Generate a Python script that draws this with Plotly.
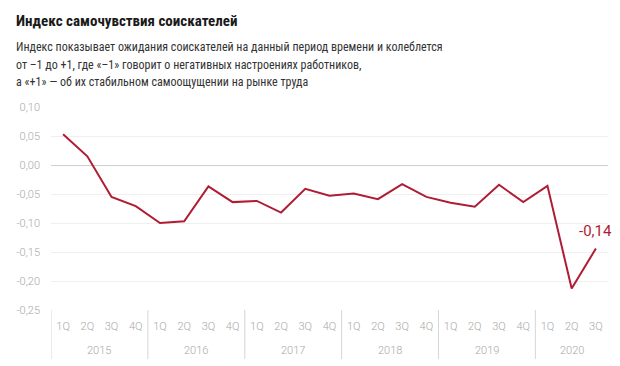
import plotly.graph_objects as go

years = ["2015"] * 4 + ["2016"] * 4 + ["2017"] * 4 + ["2018"] * 4 + ["2019"] * 4 + ["2020"] * 3
quarters = ["1Q", "2Q", "3Q", "4Q"] * 5 + ["1Q", "2Q", "3Q"]
index_values = [0.053, 0.015, -0.055, -0.071,
                -0.100, -0.097, -0.037, -0.064,
                -0.062, -0.082, -0.041, -0.053,
                -0.049, -0.059, -0.033, -0.055,
                -0.065, -0.072, -0.034, -0.064,
                -0.036, -0.213, -0.144]
y_tickvals = [0.10, 0.05, 0.00, -0.05, -0.10, -0.15, -0.20, -0.25]
y_ticktext = ["0,10", "0,05", "0,00", "-0,05", "-0,10", "-0,15", "-0,20", "-0,25"]

title = "Индекс самочувствия соискателей"
subtitle = [
    "Индекс показывает ожидания соискателей на данный период времени и колеблется",
    "от –1 до +1, где «–1» говорит о негативных настроениях работников,",
    "а «+1» — об их стабильном самоощущении на рынке труда",
]
last_label = "-0,14"

RED = "#b01c33"
COND = "Roboto Condensed, Roboto, sans-serif"
TICKFONT = "Roboto, sans-serif"
GREY = "#a8a8a8"

n = len(index_values)
xs = list(range(n))

fig = go.Figure()
fig.add_trace(go.Scatter(
    x=xs, y=index_values, mode="lines",
    line=dict(color=RED, width=2), hoverinfo="skip", showlegend=False,
))

# page has an 8px body margin, so the figure is drawn 8px smaller
W, H = 612, 358
L, R, T, B = 43, 12, 99, 56
pw, ph = W - L - R, H - T - B

def px_x(p):
    return (p - L) / pw

def px_y(p):
    return (H - B - p) / ph

annotations = [
    dict(text=title, x=px_x(6), y=px_y(13.5), xref="paper", yref="paper",
         xanchor="left", yanchor="middle", showarrow=False,
         font=dict(family=COND, size=15, color="#1a1a1a", weight="bold")),
]
for i, line in enumerate(subtitle):
    annotations.append(dict(text=line, x=px_x(6), y=px_y(39.5 + i * 17.3), xref="paper", yref="paper",
                            xanchor="left", yanchor="middle", showarrow=False,
                            font=dict(family=COND, size=12, color="#333333")))
annotations.append(dict(text=last_label, x=xs[-1], y=index_values[-1],
                        xref="x", yref="y", showarrow=False, yshift=18,
                        xanchor="center", yanchor="middle",
                        font=dict(family=TICKFONT, size=15, color=RED)))

# year group labels and dividers
shapes = []
groups = []
for i, yv in enumerate(years):
    if i == 0 or years[i - 1] != yv:
        groups.append([yv, i, i])
    else:
        groups[-1][2] = i
for yv, a, b in groups:
    annotations.append(dict(text=yv, x=(a + b) / 2, y=px_y(342), xref="x", yref="paper",
                            xanchor="center", yanchor="middle", showarrow=False,
                            font=dict(family=TICKFONT, size=11, color=GREY, weight=300)))
    shapes.append(dict(type="line", xref="x", yref="paper", x0=a - 0.5, x1=a - 0.5,
                       y0=0, y1=px_y(351), line=dict(color="#d6d6d6", width=1)))

fig.update_layout(
    width=W, height=H,
    margin=dict(l=L, r=R, t=T, b=B, autoexpand=False),
    paper_bgcolor="white", plot_bgcolor="white",
    font=dict(family=TICKFONT, color=GREY, size=11),
    annotations=annotations, shapes=shapes,
    xaxis=dict(range=[-0.5, n - 0.5], tickvals=xs, ticktext=quarters,
               showgrid=False, zeroline=False, showline=False, ticks="",
               ticklabelstandoff=8,
               tickfont=dict(family=TICKFONT, size=11, color=GREY, weight=300),
               automargin=False, fixedrange=True),
    yaxis=dict(range=[-0.25, 0.10], tickvals=y_tickvals, ticktext=y_ticktext,
               showgrid=True, gridcolor="#efefef", gridwidth=1,
               zeroline=True, zerolinecolor="#cfcfcf", zerolinewidth=1,
               showline=False, ticks="", ticklabelstandoff=10,
               tickfont=dict(family=TICKFONT, size=11, color=GREY, weight=300),
               automargin=False, fixedrange=True),
)

fig.write_html("out.html")
